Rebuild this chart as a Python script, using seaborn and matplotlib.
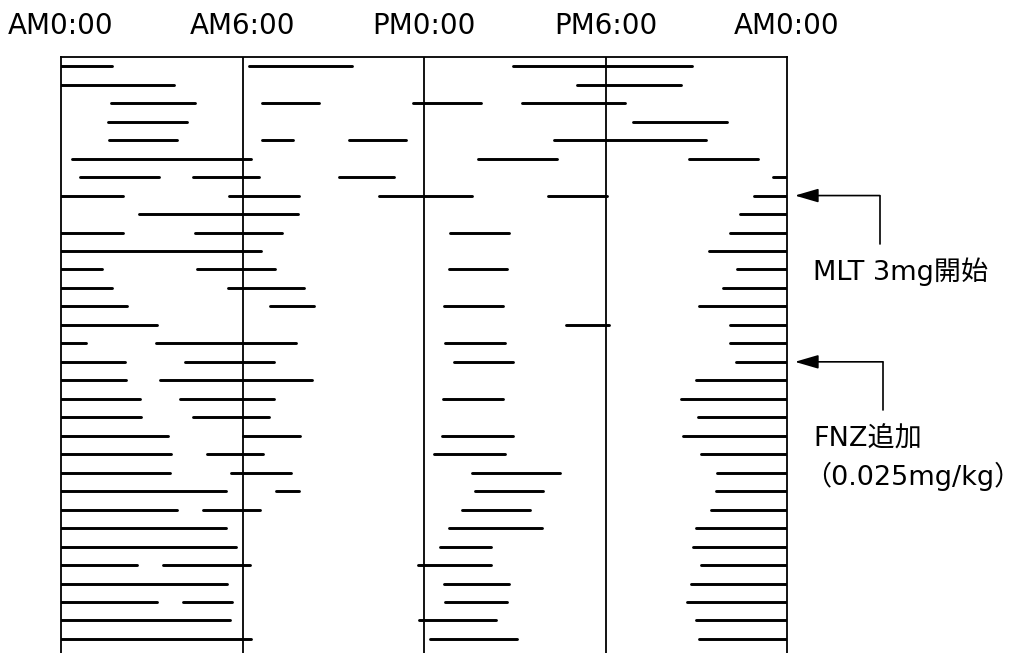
import numpy as np
import pandas as pd
import matplotlib
matplotlib.use("Agg")
import matplotlib.pyplot as plt
import seaborn as sns

# ---- data: sleep bouts per day (hours from midnight) ----
day = [1, 1, 1,
       2, 2,
       3, 3, 3, 3,
       4, 4,
       5, 5, 5, 5,
       6, 6, 6,
       7, 7, 7, 7,
       8, 8, 8, 8, 8,
       9, 9,
       10, 10, 10, 10,
       11, 11,
       12, 12, 12, 12,
       13, 13, 13,
       14, 14, 14, 14,
       15, 15, 15,
       16, 16, 16, 16,
       17, 17, 17, 17,
       18, 18, 18,
       19, 19, 19, 19,
       20, 20, 20,
       21, 21, 21, 21,
       22, 22, 22, 22,
       23, 23, 23, 23,
       24, 24, 24, 24,
       25, 25, 25, 25,
       26, 26, 26,
       27, 27, 27,
       28, 28, 28, 28,
       29, 29, 29,
       30, 30, 30, 30,
       31, 31, 31,
       32, 32, 32]
onset = [0.0, 6.22, 14.93,
         0.0, 17.05,
         1.64, 6.66, 11.65, 15.25,
         1.56, 18.9,
         1.6, 6.66, 9.52, 16.3,
         0.36, 13.78, 20.75,
         0.64, 4.35, 9.2, 23.55,
         0.0, 5.55, 10.5, 16.1, 22.9,
         2.58, 22.45,
         0.0, 4.43, 12.85, 22.12,
         0.0, 21.43,
         0.0, 4.48, 12.82, 22.35,
         0.0, 5.53, 21.9,
         0.0, 6.92, 12.66, 21.08,
         0.0, 16.7, 22.12,
         0.0, 3.13, 12.71, 22.12,
         0.0, 4.11, 12.99, 22.3,
         0.0, 3.28, 21.0,
         0.0, 3.92, 12.63, 20.5,
         0.0, 4.35, 21.05,
         0.0, 6.0, 12.59, 20.55,
         0.0, 4.82, 12.33, 21.15,
         0.0, 5.63, 13.6, 21.7,
         0.0, 7.1, 13.7, 21.65,
         0.0, 4.68, 13.27, 21.5,
         0.0, 12.82, 20.98,
         0.0, 12.54, 20.9,
         0.0, 3.37, 11.8, 21.17,
         0.0, 12.66, 20.84,
         0.0, 4.02, 12.71, 20.71,
         0.0, 11.82, 21.0,
         0.0, 12.21, 21.08]
offset = [1.69, 9.61, 20.86,
          3.72, 20.5,
          4.43, 8.54, 13.9, 18.65,
          4.15, 22.0,
          3.83, 7.68, 11.42, 21.33,
          6.27, 16.4, 23.05,
          3.24, 6.55, 11.02, 24.0,
          2.04, 7.86, 13.58, 18.05, 24.0,
          7.83, 24.0,
          2.04, 7.32, 14.8, 24.0,
          6.6, 24.0,
          1.36, 7.09, 14.76, 24.0,
          1.68, 8.02, 24.0,
          2.17, 8.38, 14.6, 24.0,
          3.19, 18.12, 24.0,
          0.81, 7.78, 14.69, 24.0,
          2.12, 7.05, 14.93, 24.0,
          2.15, 8.3, 24.0,
          2.6, 7.05, 14.6, 24.0,
          2.65, 6.86, 24.0,
          3.55, 7.9, 14.95, 24.0,
          3.62, 6.67, 14.69, 24.0,
          3.6, 7.6, 16.48, 24.0,
          5.44, 7.88, 15.95, 24.0,
          3.83, 6.57, 15.5, 24.0,
          5.45, 15.9, 24.0,
          5.77, 14.22, 24.0,
          2.52, 6.25, 14.23, 24.0,
          5.49, 14.81, 24.0,
          3.17, 5.65, 14.73, 24.0,
          5.6, 14.38, 24.0,
          6.28, 15.06, 24.0]

tick_hours = [0, 6, 12, 18, 24]
tick_labels = ["AM0:00", "AM6:00", "PM0:00", "PM6:00", "AM0:00"]
grid_hours = [6, 12, 18]
mlt_day = 8
fnz_day = 17

# ---- long-form table: two points per bout ----
n = len(day)
df = pd.DataFrame({
    "seg": np.repeat(np.arange(n), 2),
    "day": np.repeat(day, 2),
    "hour": np.ravel(np.column_stack([onset, offset])),
})

sns.set_theme(style="white")
plt.rcParams["font.family"] = ["DejaVu Sans", "Noto Sans CJK JP"]

W, H = 1026, 653
fig = plt.figure(figsize=(W / 100, H / 100), dpi=100)
fig.patch.set_facecolor("white")
left_px, right_px, top_px = 61, 787, 57
ax = fig.add_axes([left_px / W, 0, (right_px - left_px) / W, (H - top_px) / H])
ax.set_facecolor("white")

sns.lineplot(data=df, x="hour", y="day", units="seg", estimator=None,
             sort=False, color="black", linewidth=2.1, ax=ax, legend=False)

for g in grid_hours:
    ax.axvline(g, color="black", linewidth=1.3, zorder=1)

ax.set_xlim(0, 24)
ax.set_ylim(32.76, 0.5)
ax.set_xlabel("")
ax.set_ylabel("")
ax.set_yticks([])
ax.xaxis.tick_top()
ax.set_xticks(tick_hours)
ax.set_xticklabels(tick_labels, fontsize=20, color="black")
ax.tick_params(axis="x", length=0, pad=12)
for side in ["left", "right", "top"]:
    ax.spines[side].set_visible(True)
    ax.spines[side].set_color("black")
    ax.spines[side].set_linewidth(1.3)
ax.spines["bottom"].set_visible(False)

# ---- annotations ----
def bracket_arrow(y_day, x_corner, y_end):
    ax.annotate("", xy=(24.26, y_day), xytext=(x_corner, y_day),
                arrowprops=dict(arrowstyle="-|>,head_length=1.2,head_width=0.35",
                                color="black", lw=1.2, shrinkA=0, shrinkB=0),
                annotation_clip=False)
    ax.plot([x_corner, x_corner], [y_day, y_end], color="black", lw=1.2,
            clip_on=False)

bracket_arrow(mlt_day, 27.07, 10.6)
bracket_arrow(fnz_day, 27.17, 19.6)

ax.text(24.86, 12.1, "MLT 3mg開始", fontsize=19.5, va="center", ha="left",
        color="black", clip_on=False)
ax.text(24.86, 21.2, "FNZ追加", fontsize=19.5, va="center", ha="left",
        color="black", clip_on=False)
ax.text(24.55, 23.2, "（0.025mg/kg）", fontsize=19.5, va="center", ha="left",
        color="black", clip_on=False)

fig.savefig("out.png", dpi=100, facecolor="white")
